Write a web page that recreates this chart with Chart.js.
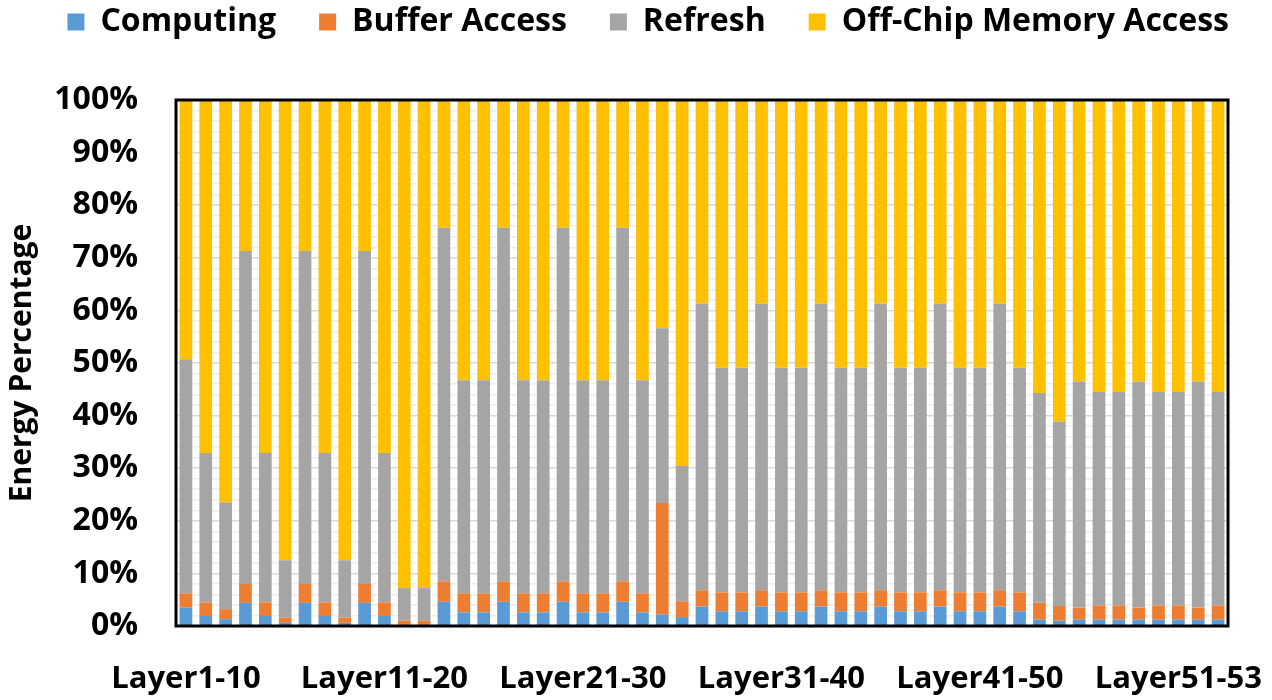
<!DOCTYPE html>
<html>
<head>
<meta charset="utf-8">
<script src="https://cdn.jsdelivr.net/npm/chart.js@4.4.1/dist/chart.umd.min.js"></script>
<style>
  html, body { margin: 0; padding: 0; background: #fff; }
  #wrap { width: 1272px; height: 700px; }
</style>
</head>
<body>
<div id="wrap"><canvas id="chart-energy"></canvas></div>
<script>
// 카테고리 / 시리즈 값 (그림에서 읽은 % 값)
const seriesNames = ['Computing', 'Buffer Access', 'Refresh', 'Off-Chip Memory Access'];
const seriesColors = ['#5B9BD5', '#ED7D31', '#A5A5A5', '#FFC000'];
const groupLabels = ['Layer1-10', 'Layer11-20', 'Layer21-30', 'Layer31-40', 'Layer41-50', 'Layer51-53'];
const layers = Array.from({ length: 53 }, (_, i) => `Layer${i + 1}`);

const computing = [
    3.5, 1.9, 1.3, 4.4, 1.9, 0.6, 4.4, 1.9, 0.6, 4.4, 1.9, 0.2, 0.2,
    4.6, 2.6, 2.6, 4.6, 2.6, 2.6, 4.6, 2.6, 2.6, 4.6, 2.6, 2.2, 1.7,
    3.7, 2.8, 2.8, 3.7, 2.8, 2.8, 3.7, 2.8, 2.8, 3.7, 2.8, 2.8, 3.7, 2.8, 2.8, 3.7, 2.8,
    1.2, 1.0, 1.2, 1.2, 1.2, 1.2, 1.2, 1.2, 1.2, 1.2
];
const bufferAccess = [
    2.7, 2.6, 1.9, 3.6, 2.6, 1.0, 3.6, 2.6, 1.0, 3.6, 2.6, 0.8, 0.8,
    3.9, 3.6, 3.6, 3.9, 3.6, 3.6, 3.9, 3.6, 3.6, 3.9, 3.6, 21.2, 3.0,
    3.1, 3.6, 3.6, 3.1, 3.6, 3.6, 3.1, 3.6, 3.6, 3.1, 3.6, 3.6, 3.1, 3.6, 3.6, 3.1, 3.6,
    3.2, 2.8, 2.3, 2.7, 2.7, 2.3, 2.7, 2.7, 2.3, 2.7
];
const refresh = [
    44.5, 28.4, 20.3, 63.3, 28.4, 10.9, 63.3, 28.4, 10.9, 63.3, 28.4, 6.2, 6.2,
    67.2, 40.5, 40.5, 67.2, 40.5, 40.5, 67.2, 40.5, 40.5, 67.2, 40.5, 33.2, 25.7,
    54.5, 42.7, 42.7, 54.5, 42.7, 42.7, 54.5, 42.7, 42.7, 54.5, 42.7, 42.7, 54.5, 42.7, 42.7, 54.5, 42.7,
    39.9, 35.1, 43.0, 40.6, 40.6, 43.0, 40.6, 40.6, 43.0, 40.6
];
const offChip = [
    49.3, 67.1, 76.5, 28.7, 67.1, 87.5, 28.7, 67.1, 87.5, 28.7, 67.1, 92.8, 92.8,
    24.3, 53.3, 53.3, 24.3, 53.3, 53.3, 24.3, 53.3, 53.3, 24.3, 53.3, 43.4, 69.6,
    38.7, 50.9, 50.9, 38.7, 50.9, 50.9, 38.7, 50.9, 50.9, 38.7, 50.9, 50.9, 38.7, 50.9, 50.9, 38.7, 50.9,
    55.7, 61.1, 53.5, 55.5, 55.5, 53.5, 55.5, 55.5, 53.5, 55.5
];

const FONT = '"Open Sans", "Noto Sans", sans-serif';

// 플롯 영역 검은 테두리
const plotFrame = {
    id: 'plotFrame',
    afterDatasetsDraw(chart) {
        const { ctx, chartArea: a } = chart;
        ctx.save();
        ctx.strokeStyle = '#000';
        ctx.lineWidth = 3;
        ctx.strokeRect(a.left, a.top, a.width, a.height);
        ctx.restore();
    }
};

// 범례 영역 높이 고정 (플롯 상단을 맞추기 위함)
const legendBand = {
    id: 'legendBand',
    beforeInit(chart) {
        const lg = chart.legend;
        if (!lg) return;
        const fit = lg.fit;
        lg.fit = function () { fit.call(this); this.height = 137; };
    }
};

const datasets = [computing, bufferAccess, refresh, offChip].map((data, i) => ({
    label: seriesNames[i],
    data,
    backgroundColor: seriesColors[i],
    borderWidth: 0,
    barPercentage: 0.64,
    categoryPercentage: 1.0
}));

new Chart(document.getElementById('chart-energy'), {
    type: 'bar',
    data: { labels: layers, datasets },
    plugins: [plotFrame, legendBand],
    options: {
        responsive: true,
        maintainAspectRatio: false,
        animation: false,
        layout: { padding: { top: -37, right: 0, bottom: 0, left: 0 } },
        plugins: {
            tooltip: { enabled: false },
            legend: {
                position: 'top',
                align: 'end',
                labels: {
                    boxWidth: 17,
                    boxHeight: 17,
                    padding: 43,
                    color: '#000',
                    font: { family: FONT, size: 32, weight: 'bold' }
                }
            }
        },
        scales: {
            x: {
                stacked: true,
                grid: { display: false },
                border: { display: false },
                ticks: {
                    autoSkip: false,
                    maxRotation: 0,
                    minRotation: 0,
                    padding: 27,
                    color: '#000',
                    font: { family: FONT, size: 31, weight: 'bold' },
                    callback: (v, i) => (i % 10 === 0 ? groupLabels[i / 10] : '')
                },
                afterFit: s => { s.height = 74; }
            },
            y: {
                stacked: true,
                min: 0,
                max: 100,
                ticks: {
                    stepSize: 10,
                    padding: 38,
                    color: '#000',
                    font: { family: FONT, size: 32, weight: 'bold' },
                    callback: v => `${v}%`
                },
                grid: { color: '#d9d9d9', lineWidth: 1.5, drawTicks: false },
                border: { display: false },
                title: {
                    display: true,
                    text: 'Energy Percentage',
                    color: '#000',
                    padding: { top: 4, bottom: 0 },
                    font: { family: FONT, size: 30, weight: 'bold' }
                },
                afterFit: s => { s.width = 176; }
            },
            // 보조 눈금선 (2% 간격), 오른쪽 여백 역할도 겸함
            yMinor: {
                position: 'right',
                min: 0,
                max: 100,
                ticks: { display: false, stepSize: 2 },
                grid: {
                    color: ctx => (Math.round(ctx.tick.value) % 10 === 0 ? 'rgba(0,0,0,0)' : '#eeeeee'),
                    lineWidth: 1.5,
                    drawTicks: false
                },
                border: { display: false },
                afterFit: s => { s.width = 44; }
            }
        }
    }
});
</script>
</body>
</html>
